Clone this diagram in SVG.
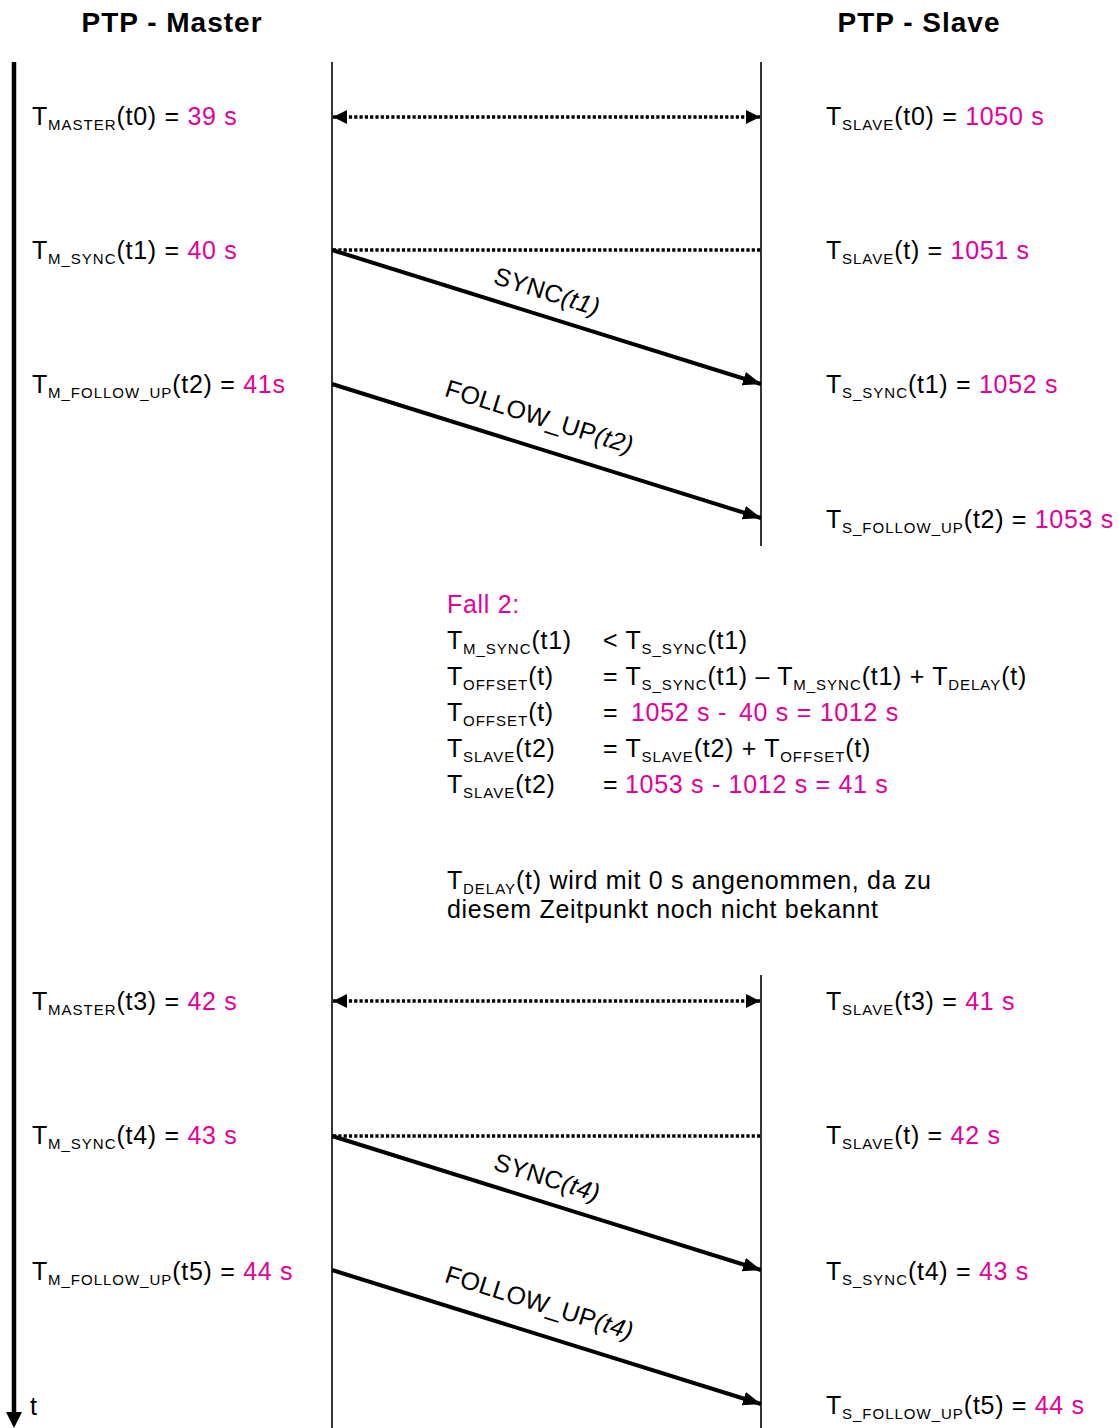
<svg xmlns="http://www.w3.org/2000/svg" width="1119" height="1428" viewBox="0 0 1119 1428">
<defs>
<style>
text{font-family:"Liberation Sans",Arial,sans-serif;font-size:25px;fill:#000;letter-spacing:0.7px}
.title{font-size:28px;font-weight:bold;letter-spacing:1px}
.m{fill:#E2009A}
.sub{font-size:15px;letter-spacing:1px}
.it{font-style:italic}
.lbl{letter-spacing:0.3px}
.life{stroke:#000;stroke-width:1.6;fill:none}
.msg{stroke:#000;stroke-width:4;fill:none}
.dot{stroke:#000;stroke-width:3.6;stroke-dasharray:3.2 2.1;fill:none}
</style>
<marker id="ah" markerUnits="userSpaceOnUse" markerWidth="18" markerHeight="14" refX="18" refY="7" orient="auto">
<path d="M0,0 L18,7 L0,14 Z" fill="#000"/>
</marker>
<marker id="dh" markerUnits="userSpaceOnUse" markerWidth="14" markerHeight="14" refX="14" refY="7" orient="auto-start-reverse">
<path d="M0,0 L14,7 L0,14 Z" fill="#000"/>
</marker>
</defs>
<rect width="1119" height="1428" fill="#fff"/>

<g id="titles">
<text class="title" x="172" y="32" text-anchor="middle">PTP - Master</text>
<text class="title" x="919" y="32" text-anchor="middle">PTP - Slave</text>
</g>

<g id="lifelines">
<line x1="14" y1="62" x2="14" y2="1414" stroke="#000" stroke-width="4.5"/>
<path d="M6,1412 L22,1412 L14,1428 Z" fill="#000"/>
<text x="30" y="1415">t</text>
<line class="life" x1="332" y1="62" x2="332" y2="1428"/>
<line class="life" x1="761" y1="62" x2="761" y2="546"/>
<line class="life" x1="761" y1="975" x2="761" y2="1428"/>
</g>

<g id="connectors">
<line class="dot" x1="333" y1="117" x2="760" y2="117" marker-start="url(#dh)" marker-end="url(#dh)"/>
<line class="dot" x1="333" y1="250" x2="761" y2="250"/>
<line class="msg" x1="332" y1="250" x2="761" y2="384" marker-end="url(#ah)"/>
<line class="msg" x1="332" y1="384" x2="761" y2="518" marker-end="url(#ah)"/>
<line class="dot" x1="333" y1="1001" x2="760" y2="1001" marker-start="url(#dh)" marker-end="url(#dh)"/>
<line class="dot" x1="333" y1="1136" x2="761" y2="1136"/>
<line class="msg" x1="332" y1="1136" x2="761" y2="1270" marker-end="url(#ah)"/>
<line class="msg" x1="332" y1="1270" x2="761" y2="1404" marker-end="url(#ah)"/>
</g>

<g id="msg-labels">
<g transform="translate(332,250) rotate(17.35)"><text class="lbl" x="163" y="-16">SYNC<tspan class="it">(t1)</tspan></text></g>
<g transform="translate(332,384) rotate(17.35)"><text class="lbl" x="110" y="-22">FOLLOW_UP<tspan class="it">(t2)</tspan></text></g>
<g transform="translate(332,1136) rotate(17.35)"><text class="lbl" x="163" y="-16">SYNC<tspan class="it">(t4)</tspan></text></g>
<g transform="translate(332,1270) rotate(17.35)"><text class="lbl" x="110" y="-22">FOLLOW_UP<tspan class="it">(t4)</tspan></text></g>
</g>

<g id="master-labels">
<text x="32" y="125">T<tspan class="sub" dy="5">MASTER</tspan><tspan dy="-5">(t0) = </tspan><tspan class="m">39 s</tspan></text>
<text x="32" y="259">T<tspan class="sub" dy="5">M_SYNC</tspan><tspan dy="-5">(t1) = </tspan><tspan class="m">40 s</tspan></text>
<text x="32" y="393">T<tspan class="sub" dy="5">M_FOLLOW_UP</tspan><tspan dy="-5">(t2) = </tspan><tspan class="m">41s</tspan></text>
<text x="32" y="1010">T<tspan class="sub" dy="5">MASTER</tspan><tspan dy="-5">(t3) = </tspan><tspan class="m">42 s</tspan></text>
<text x="32" y="1144">T<tspan class="sub" dy="5">M_SYNC</tspan><tspan dy="-5">(t4) = </tspan><tspan class="m">43 s</tspan></text>
<text x="32" y="1280">T<tspan class="sub" dy="5">M_FOLLOW_UP</tspan><tspan dy="-5">(t5) = </tspan><tspan class="m">44 s</tspan></text>
</g>

<g id="slave-labels">
<text x="826" y="125">T<tspan class="sub" dy="5">SLAVE</tspan><tspan dy="-5">(t0) = </tspan><tspan class="m">1050 s</tspan></text>
<text x="826" y="259">T<tspan class="sub" dy="5">SLAVE</tspan><tspan dy="-5">(t) = </tspan><tspan class="m">1051 s</tspan></text>
<text x="826" y="393">T<tspan class="sub" dy="5">S_SYNC</tspan><tspan dy="-5">(t1) = </tspan><tspan class="m">1052 s</tspan></text>
<text x="826" y="528">T<tspan class="sub" dy="5">S_FOLLOW_UP</tspan><tspan dy="-5">(t2) = </tspan><tspan class="m">1053 s</tspan></text>
<text x="826" y="1010">T<tspan class="sub" dy="5">SLAVE</tspan><tspan dy="-5">(t3) = </tspan><tspan class="m">41 s</tspan></text>
<text x="826" y="1144">T<tspan class="sub" dy="5">SLAVE</tspan><tspan dy="-5">(t) = </tspan><tspan class="m">42 s</tspan></text>
<text x="826" y="1280">T<tspan class="sub" dy="5">S_SYNC</tspan><tspan dy="-5">(t4) = </tspan><tspan class="m">43 s</tspan></text>
<text x="826" y="1414">T<tspan class="sub" dy="5">S_FOLLOW_UP</tspan><tspan dy="-5">(t5) = </tspan><tspan class="m">44 s</tspan></text>
</g>

<g id="fall2">
<text class="m" x="447" y="613">Fall 2:</text>
<text x="447" y="649">T<tspan class="sub" dy="5">M_SYNC</tspan><tspan dy="-5">(t1)</tspan></text>
<text x="603" y="649">&lt; T<tspan class="sub" dy="5">S_SYNC</tspan><tspan dy="-5">(t1)</tspan></text>
<text x="447" y="685">T<tspan class="sub" dy="5">OFFSET</tspan><tspan dy="-5">(t)</tspan></text>
<text x="603" y="685">= T<tspan class="sub" dy="5">S_SYNC</tspan><tspan dy="-5">(t1) – T</tspan><tspan class="sub" dy="5">M_SYNC</tspan><tspan dy="-5">(t1) + T</tspan><tspan class="sub" dy="5">DELAY</tspan><tspan dy="-5">(t)</tspan></text>
<text x="447" y="721">T<tspan class="sub" dy="5">OFFSET</tspan><tspan dy="-5">(t)</tspan></text>
<text x="603" y="721">=<tspan class="m" x="631">1052 s -</tspan><tspan class="m" x="739">40 s = 1012 s</tspan></text>
<text x="447" y="757">T<tspan class="sub" dy="5">SLAVE</tspan><tspan dy="-5">(t2)</tspan></text>
<text x="603" y="757">= T<tspan class="sub" dy="5">SLAVE</tspan><tspan dy="-5">(t2) + T</tspan><tspan class="sub" dy="5">OFFSET</tspan><tspan dy="-5">(t)</tspan></text>
<text x="447" y="793">T<tspan class="sub" dy="5">SLAVE</tspan><tspan dy="-5">(t2)</tspan></text>
<text x="603" y="793">=<tspan class="m" x="625">1053 s - 1012 s = 41 s</tspan></text>
<text x="447" y="889">T<tspan class="sub" dy="5">DELAY</tspan><tspan dy="-5">(t) wird mit 0 s angenommen, da zu</tspan></text>
<text x="447" y="918">diesem Zeitpunkt noch nicht bekannt</text>
</g>
</svg>
